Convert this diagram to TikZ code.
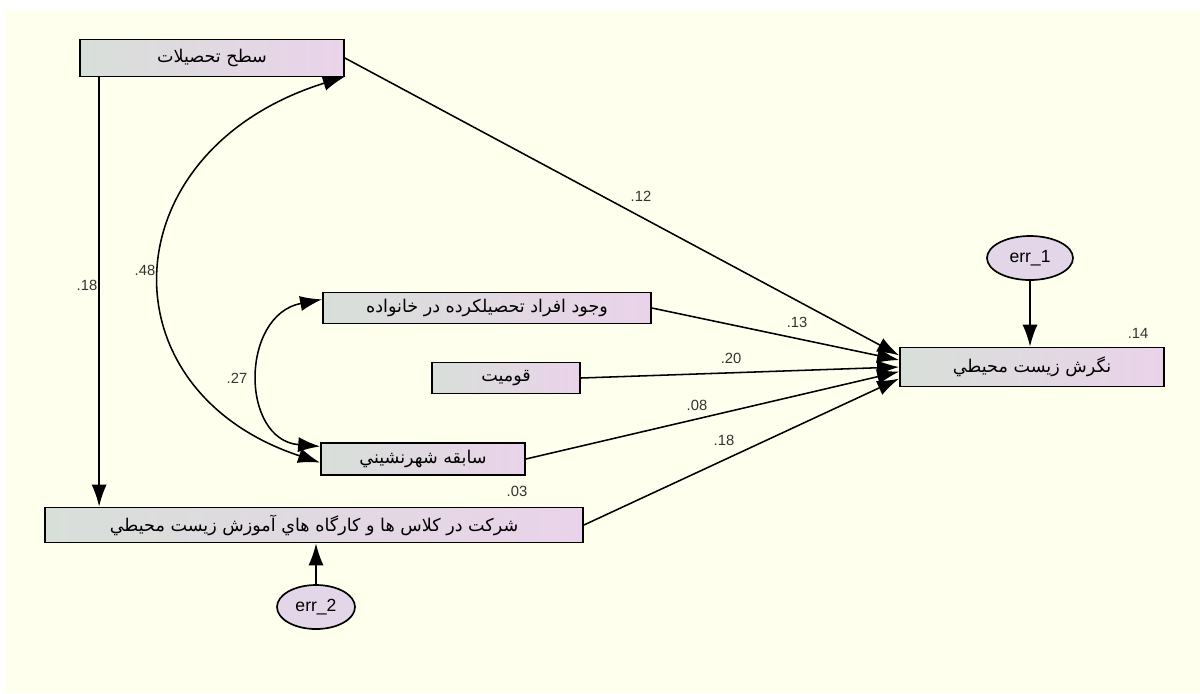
\documentclass[tikz,border=0pt]{standalone}
\usepackage{fontspec}
\setmainfont{Liberation Sans}
\newfontfamily\farsifont[Script=Arabic]{DejaVu Sans}
\TeXXeTstate=1
\usetikzlibrary{arrows.meta,shapes.geometric}
\definecolor{bgyellow}{HTML}{FEFFEC}
\definecolor{boxgray}{HTML}{D8DFD9}
\definecolor{boxpink}{HTML}{EAD3EA}
\definecolor{errfill}{HTML}{E3D6E8}
\definecolor{coefgray}{HTML}{333333}
\newcommand{\fa}[1]{{\farsifont\beginR #1\endR}}

\begin{document}
\begin{tikzpicture}[x=0.025cm, y=-0.025cm, every node/.style={font=\fontsize{10.5}{12}\selectfont}]

	% Background of the diagram
	\fill[white] (0,0) rectangle (1200,693);
	\fill[bgyellow] (5,10) rectangle (1200,693);
	\useasboundingbox (0,0) rectangle (1200,693);

	% Styles for observed variables, error terms, paths and coefficients
	\tikzset{
		var box/.style={draw, line width=1.2pt, left color=boxgray, right color=boxpink, inner sep=0pt, font=\fontsize{12.5}{14}\selectfont},
		err ellipse/.style={ellipse, draw, line width=1.2pt, fill=errfill, inner sep=0pt, minimum height=1.1cm, font=\fontsize{12.5}{14}\selectfont},
		path arrow/.style={line width=1.1pt, -{Latex[length=5.5mm, width=3.8mm]}},
		cov arrow/.style={line width=1.1pt, {Latex[length=5.5mm, width=3.8mm]}-{Latex[length=5.5mm, width=3.8mm]}},
		coef/.style={text=coefgray}
	};

	% Observed variables
	\node[var box, minimum width=6.6cm, minimum height=0.92cm] (edu) at (212,58) {\fa{سطح تحصیلات}};
	\node[var box, minimum width=8.2cm, minimum height=0.78cm] (family) at (487,308) {\fa{وجود افراد تحصیلکرده در خانواده}};
	\node[var box, minimum width=3.7cm, minimum height=0.78cm] (ethnic) at (506,378) {\fa{قومیت}};
	\node[var box, minimum width=5.1cm, minimum height=0.8cm] (urban) at (423,459) {\fa{سابقه شهرنشيني}};
	\node[var box, minimum width=13.45cm, minimum height=0.88cm] (course) at (314,525) {\fa{شرکت در کلاس ها و کارگاه هاي آموزش زیست محیطي}};
	\node[var box, minimum width=6.6cm, minimum height=0.98cm] (attitude) at (1032,367) {\fa{نگرش زیست محیطي}};

	% Error terms
	\node[err ellipse, minimum width=2.15cm] (err1) at (1030,258) {err\_1};
	\node[err ellipse, minimum width=1.95cm] (err2) at (316,607) {err\_2};

	% Paths to the attitude variable
	\draw[path arrow] (edu.east) -- (attitude.175);
	\draw[path arrow] (family.east) -- (attitude.177.5);
	\draw[path arrow] (ethnic.east) -- (attitude.west);
	\draw[path arrow] (urban.east) -- (attitude.182.5);
	\draw[path arrow] (course.east) -- (attitude.185);
	\draw[path arrow] (err1.south) -- (err1 |- attitude.north);

	% Paths to the course variable
	\coordinate (edudown) at ([xshift=5mm]edu.south west);
	\draw[path arrow] (edudown) -- (edudown |- course.north);
	\draw[path arrow] (err2.north) -- (err2 |- course.south);

	% Covariances
	\draw[cov arrow] (urban.182) .. controls (100,390) and (110,150) .. (edu.-8);
	\draw[cov arrow] (urban.173) .. controls (240,440) and (240,315) .. (family.177);

	% Coefficients
	\node[coef] (c12) at (641,196) {.12};
	\node[coef] (c13) at (797,322) {.13};
	\node[coef] (c20) at (731,358) {.20};
	\node[coef] (c08) at (697,405) {.08};
	\node[coef] (c18a) at (724,440) {.18};
	\node[coef] (c18b) at (87,285) {.18};
	\node[coef] (c48) at (145,270) {.48};
	\node[coef] (c27) at (237,378) {.27};
	\node[coef] (c14) at (1138,333) {.14};
	\node[coef] (c03) at (517,491) {.03};
\end{tikzpicture}
\end{document}
